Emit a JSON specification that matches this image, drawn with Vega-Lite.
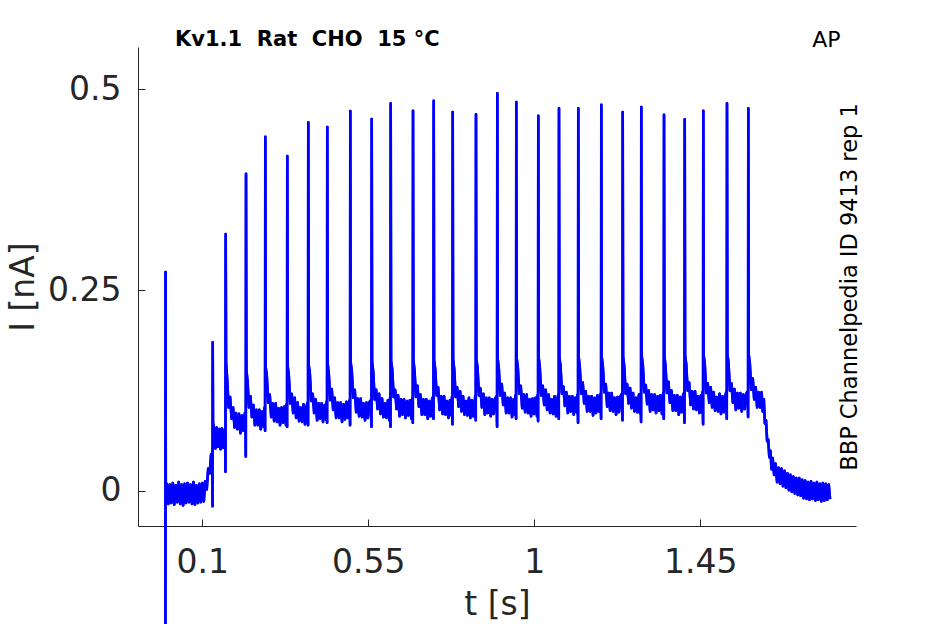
{
"$schema": "https://vega.github.io/schema/vega-lite/v6.json",
"width": 718, "height": 479,
"autosize": {"type": "none"},
"padding": {"left": 138, "top": 47, "right": 89, "bottom": 98},
"background": "white",
"config": {"view": {"stroke": null}, "font": "DejaVu Sans"},
"title": {"text": "Kv1.1\u00a0\u00a0Rat\u00a0\u00a0CHO\u00a0\u00a015 °C", "anchor": "start", "frame": "group", "dx": 37, "fontSize": 21, "fontWeight": "bold", "color": "black", "font": "DejaVu Sans", "baseline": "alphabetic", "offset": -39},
"data": {"values": [
{"t":0,"i":-0.25},{"t":0.0004,"i":0.2726},{"t":0.001,"i":0.004},{"t":0.004,"i":0.009},{"t":0.008,"i":-0.016},{"t":0.012,"i":0.008},{"t":0.016,"i":-0.015},{"t":0.02,"i":0.01},{"t":0.024,"i":-0.017},{"t":0.028,"i":0.007},{"t":0.032,"i":-0.014},{"t":0.036,"i":0.011},{"t":0.04,"i":-0.016},{"t":0.044,"i":0.008},{"t":0.048,"i":-0.018},{"t":0.052,"i":0.009},{"t":0.056,"i":-0.015},{"t":0.06,"i":0.01},{"t":0.064,"i":-0.014},{"t":0.068,"i":0.008},{"t":0.072,"i":-0.016},{"t":0.076,"i":0.011},{"t":0.08,"i":-0.017},{"t":0.084,"i":0.007},{"t":0.088,"i":-0.015},{"t":0.092,"i":0.009},{"t":0.096,"i":-0.014},{"t":0.1,"i":0.01},{"t":0.104,"i":-0.013},{"t":0.108,"i":0.012},{"t":0.112,"i":0.002},{"t":0.116,"i":0.028},{"t":0.12,"i":0.022},{"t":0.124,"i":0.046},{"t":0.1272,"i":0.035},{"t":0.1278,"i":-0.019},{"t":0.1282,"i":0.185},
{"t":0.129,"i":0.085},{"t":0.132,"i":0.078},{"t":0.1355,"i":0.053},{"t":0.139,"i":0.079},{"t":0.1425,"i":0.055},{"t":0.146,"i":0.077},{"t":0.1495,"i":0.052},{"t":0.153,"i":0.078},{"t":0.1565,"i":0.054},{"t":0.16,"i":0.076},{"t":0.162,"i":0.062},{"t":0.1628,"i":0.024},{"t":0.1634,"i":0.32},
{"t":0.1644,"i":0.16},{"t":0.1674,"i":0.139},{"t":0.1714,"i":0.104},{"t":0.1754,"i":0.117},{"t":0.1794,"i":0.09},{"t":0.1834,"i":0.104},{"t":0.1874,"i":0.079},{"t":0.1914,"i":0.097},{"t":0.1954,"i":0.077},{"t":0.1994,"i":0.096},{"t":0.2034,"i":0.072},{"t":0.2074,"i":0.094},{"t":0.2114,"i":0.075},{"t":0.2154,"i":0.097},{"t":0.2168,"i":0.093},{"t":0.2179,"i":0.043},{"t":0.2185,"i":0.395},
{"t":0.2195,"i":0.15},{"t":0.2225,"i":0.137},{"t":0.2265,"i":0.104},{"t":0.2305,"i":0.118},{"t":0.2345,"i":0.092},{"t":0.2385,"i":0.107},{"t":0.2425,"i":0.082},{"t":0.2465,"i":0.101},{"t":0.2505,"i":0.082},{"t":0.2545,"i":0.101},{"t":0.2585,"i":0.077},{"t":0.2625,"i":0.099},{"t":0.2665,"i":0.08},{"t":0.2688,"i":0.104},{"t":0.2702,"i":0.075},{"t":0.2708,"i":0.441},
{"t":0.2718,"i":0.154},{"t":0.2748,"i":0.143},{"t":0.2788,"i":0.11},{"t":0.2828,"i":0.12},{"t":0.2868,"i":0.092},{"t":0.2908,"i":0.109},{"t":0.2948,"i":0.087},{"t":0.2988,"i":0.109},{"t":0.3028,"i":0.086},{"t":0.3068,"i":0.103},{"t":0.3108,"i":0.082},{"t":0.3148,"i":0.104},{"t":0.3188,"i":0.085},{"t":0.3228,"i":0.105},{"t":0.3268,"i":0.082},{"t":0.3284,"i":0.108},{"t":0.3298,"i":0.08},{"t":0.3304,"i":0.417},
{"t":0.3314,"i":0.156},{"t":0.3344,"i":0.144},{"t":0.3384,"i":0.109},{"t":0.3424,"i":0.121},{"t":0.3464,"i":0.097},{"t":0.3504,"i":0.116},{"t":0.3544,"i":0.091},{"t":0.3584,"i":0.11},{"t":0.3624,"i":0.087},{"t":0.3664,"i":0.104},{"t":0.3704,"i":0.086},{"t":0.3744,"i":0.108},{"t":0.3784,"i":0.083},{"t":0.3824,"i":0.105},{"t":0.3853,"i":0.11},{"t":0.3867,"i":0.082},{"t":0.3873,"i":0.459},
{"t":0.3883,"i":0.157},{"t":0.3913,"i":0.147},{"t":0.3953,"i":0.112},{"t":0.3993,"i":0.121},{"t":0.4033,"i":0.097},{"t":0.4073,"i":0.114},{"t":0.4113,"i":0.088},{"t":0.4153,"i":0.109},{"t":0.4193,"i":0.09},{"t":0.4233,"i":0.109},{"t":0.4273,"i":0.086},{"t":0.4313,"i":0.107},{"t":0.4353,"i":0.089},{"t":0.4368,"i":0.111},{"t":0.4382,"i":0.085},{"t":0.4388,"i":0.453},
{"t":0.4398,"i":0.159},{"t":0.4428,"i":0.146},{"t":0.4468,"i":0.113},{"t":0.4508,"i":0.127},{"t":0.4548,"i":0.101},{"t":0.4588,"i":0.116},{"t":0.4628,"i":0.091},{"t":0.4668,"i":0.11},{"t":0.4708,"i":0.091},{"t":0.4748,"i":0.11},{"t":0.4788,"i":0.086},{"t":0.4828,"i":0.108},{"t":0.4868,"i":0.089},{"t":0.4908,"i":0.111},{"t":0.4948,"i":0.091},{"t":0.4992,"i":0.113},{"t":0.5006,"i":0.082},{"t":0.5012,"i":0.473},
{"t":0.5022,"i":0.16},{"t":0.5052,"i":0.149},{"t":0.5092,"i":0.116},{"t":0.5132,"i":0.126},{"t":0.5172,"i":0.098},{"t":0.5212,"i":0.115},{"t":0.5252,"i":0.093},{"t":0.5292,"i":0.115},{"t":0.5332,"i":0.092},{"t":0.5372,"i":0.109},{"t":0.5412,"i":0.088},{"t":0.5452,"i":0.11},{"t":0.5492,"i":0.091},{"t":0.5532,"i":0.111},{"t":0.5572,"i":0.113},{"t":0.5586,"i":0.08},{"t":0.5592,"i":0.463},
{"t":0.5602,"i":0.161},{"t":0.5632,"i":0.149},{"t":0.5672,"i":0.114},{"t":0.5712,"i":0.126},{"t":0.5752,"i":0.102},{"t":0.5792,"i":0.121},{"t":0.5832,"i":0.096},{"t":0.5872,"i":0.115},{"t":0.5912,"i":0.092},{"t":0.5952,"i":0.109},{"t":0.5992,"i":0.091},{"t":0.6032,"i":0.113},{"t":0.6072,"i":0.088},{"t":0.6087,"i":0.115},{"t":0.6101,"i":0.08},{"t":0.6107,"i":0.4825},
{"t":0.6117,"i":0.162},{"t":0.6147,"i":0.152},{"t":0.6187,"i":0.117},{"t":0.6227,"i":0.126},{"t":0.6267,"i":0.102},{"t":0.6307,"i":0.119},{"t":0.6347,"i":0.093},{"t":0.6387,"i":0.114},{"t":0.6427,"i":0.095},{"t":0.6467,"i":0.114},{"t":0.6507,"i":0.091},{"t":0.6547,"i":0.112},{"t":0.6587,"i":0.094},{"t":0.6627,"i":0.113},{"t":0.6667,"i":0.09},{"t":0.6692,"i":0.116},{"t":0.6706,"i":0.085},{"t":0.6712,"i":0.4733},
{"t":0.6722,"i":0.163},{"t":0.6752,"i":0.15},{"t":0.6792,"i":0.117},{"t":0.6832,"i":0.131},{"t":0.6872,"i":0.105},{"t":0.6912,"i":0.12},{"t":0.6952,"i":0.095},{"t":0.6992,"i":0.114},{"t":0.7032,"i":0.095},{"t":0.7072,"i":0.114},{"t":0.7112,"i":0.09},{"t":0.7152,"i":0.112},{"t":0.7192,"i":0.093},{"t":0.7232,"i":0.115},{"t":0.7253,"i":0.117},{"t":0.7267,"i":0.09},{"t":0.7273,"i":0.4857},
{"t":0.7283,"i":0.163},{"t":0.7313,"i":0.152},{"t":0.7353,"i":0.119},{"t":0.7393,"i":0.129},{"t":0.7433,"i":0.101},{"t":0.7473,"i":0.118},{"t":0.7513,"i":0.096},{"t":0.7553,"i":0.118},{"t":0.7593,"i":0.095},{"t":0.7633,"i":0.112},{"t":0.7673,"i":0.091},{"t":0.7713,"i":0.113},{"t":0.7753,"i":0.094},{"t":0.7768,"i":0.117},{"t":0.7782,"i":0.083},{"t":0.7788,"i":0.4717},
{"t":0.7798,"i":0.164},{"t":0.7828,"i":0.152},{"t":0.7868,"i":0.117},{"t":0.7908,"i":0.129},{"t":0.7948,"i":0.105},{"t":0.7988,"i":0.124},{"t":0.8028,"i":0.099},{"t":0.8068,"i":0.118},{"t":0.8108,"i":0.095},{"t":0.8148,"i":0.112},{"t":0.8188,"i":0.094},{"t":0.8228,"i":0.116},{"t":0.8268,"i":0.091},{"t":0.8308,"i":0.113},{"t":0.8348,"i":0.093},{"t":0.8399,"i":0.118},{"t":0.8413,"i":0.088},{"t":0.8419,"i":0.4689},
{"t":0.8429,"i":0.164},{"t":0.8459,"i":0.154},{"t":0.8499,"i":0.119},{"t":0.8539,"i":0.128},{"t":0.8579,"i":0.104},{"t":0.8619,"i":0.121},{"t":0.8659,"i":0.095},{"t":0.8699,"i":0.116},{"t":0.8739,"i":0.097},{"t":0.8779,"i":0.116},{"t":0.8819,"i":0.093},{"t":0.8859,"i":0.114},{"t":0.8899,"i":0.096},{"t":0.8939,"i":0.115},{"t":0.8977,"i":0.118},{"t":0.8991,"i":0.08},{"t":0.8997,"i":0.495},
{"t":0.9007,"i":0.165},{"t":0.9037,"i":0.152},{"t":0.9077,"i":0.119},{"t":0.9117,"i":0.133},{"t":0.9157,"i":0.107},{"t":0.9197,"i":0.122},{"t":0.9237,"i":0.097},{"t":0.9277,"i":0.116},{"t":0.9317,"i":0.097},{"t":0.9357,"i":0.116},{"t":0.9397,"i":0.092},{"t":0.9437,"i":0.114},{"t":0.9477,"i":0.095},{"t":0.9492,"i":0.119},{"t":0.9506,"i":0.09},{"t":0.9512,"i":0.4842},
{"t":0.9522,"i":0.165},{"t":0.9552,"i":0.154},{"t":0.9592,"i":0.121},{"t":0.9632,"i":0.131},{"t":0.9672,"i":0.103},{"t":0.9712,"i":0.12},{"t":0.9752,"i":0.098},{"t":0.9792,"i":0.12},{"t":0.9832,"i":0.097},{"t":0.9872,"i":0.114},{"t":0.9912,"i":0.093},{"t":0.9952,"i":0.115},{"t":0.9992,"i":0.096},{"t":1.0032,"i":0.116},{"t":1.0072,"i":0.093},{"t":1.0088,"i":0.119},{"t":1.0102,"i":0.087},{"t":1.0108,"i":0.4672},
{"t":1.0118,"i":0.166},{"t":1.0148,"i":0.154},{"t":1.0188,"i":0.119},{"t":1.0228,"i":0.131},{"t":1.0268,"i":0.107},{"t":1.0308,"i":0.126},{"t":1.0348,"i":0.101},{"t":1.0388,"i":0.12},{"t":1.0428,"i":0.097},{"t":1.0468,"i":0.114},{"t":1.0508,"i":0.096},{"t":1.0548,"i":0.118},{"t":1.0588,"i":0.093},{"t":1.0628,"i":0.115},{"t":1.0649,"i":0.12},{"t":1.0663,"i":0.09},{"t":1.0669,"i":0.4764},
{"t":1.0679,"i":0.166},{"t":1.0709,"i":0.156},{"t":1.0749,"i":0.121},{"t":1.0789,"i":0.13},{"t":1.0829,"i":0.106},{"t":1.0869,"i":0.123},{"t":1.0909,"i":0.097},{"t":1.0949,"i":0.118},{"t":1.0989,"i":0.099},{"t":1.1029,"i":0.118},{"t":1.1069,"i":0.095},{"t":1.1109,"i":0.116},{"t":1.1149,"i":0.098},{"t":1.1172,"i":0.12},{"t":1.1186,"i":0.085},{"t":1.1192,"i":0.4764},
{"t":1.1202,"i":0.167},{"t":1.1232,"i":0.154},{"t":1.1272,"i":0.121},{"t":1.1312,"i":0.135},{"t":1.1352,"i":0.109},{"t":1.1392,"i":0.124},{"t":1.1432,"i":0.099},{"t":1.1472,"i":0.118},{"t":1.1512,"i":0.099},{"t":1.1552,"i":0.118},{"t":1.1592,"i":0.094},{"t":1.1632,"i":0.116},{"t":1.1672,"i":0.097},{"t":1.1712,"i":0.119},{"t":1.1752,"i":0.099},{"t":1.1796,"i":0.121},{"t":1.181,"i":0.09},{"t":1.1816,"i":0.4808},
{"t":1.1826,"i":0.167},{"t":1.1856,"i":0.156},{"t":1.1896,"i":0.123},{"t":1.1936,"i":0.133},{"t":1.1976,"i":0.105},{"t":1.2016,"i":0.122},{"t":1.2056,"i":0.1},{"t":1.2096,"i":0.122},{"t":1.2136,"i":0.099},{"t":1.2176,"i":0.116},{"t":1.2216,"i":0.095},{"t":1.2256,"i":0.117},{"t":1.2296,"i":0.098},{"t":1.2336,"i":0.118},{"t":1.2376,"i":0.121},{"t":1.239,"i":0.088},{"t":1.2396,"i":0.4717},
{"t":1.2406,"i":0.168},{"t":1.2436,"i":0.156},{"t":1.2476,"i":0.121},{"t":1.2516,"i":0.133},{"t":1.2556,"i":0.109},{"t":1.2596,"i":0.128},{"t":1.2636,"i":0.103},{"t":1.2676,"i":0.122},{"t":1.2716,"i":0.099},{"t":1.2756,"i":0.116},{"t":1.2796,"i":0.098},{"t":1.2836,"i":0.12},{"t":1.2866,"i":0.097},{"t":1.288,"i":0.121},{"t":1.2894,"i":0.086},{"t":1.29,"i":0.478},
{"t":1.291,"i":0.168},{"t":1.294,"i":0.158},{"t":1.298,"i":0.123},{"t":1.302,"i":0.132},{"t":1.306,"i":0.108},{"t":1.31,"i":0.125},{"t":1.314,"i":0.099},{"t":1.318,"i":0.12},{"t":1.322,"i":0.101},{"t":1.326,"i":0.12},{"t":1.33,"i":0.097},{"t":1.334,"i":0.118},{"t":1.338,"i":0.1},{"t":1.342,"i":0.119},{"t":1.346,"i":0.096},{"t":1.3496,"i":0.122},{"t":1.351,"i":0.09},{"t":1.3516,"i":0.4684},
{"t":1.3526,"i":0.168},{"t":1.3556,"i":0.155},{"t":1.3596,"i":0.122},{"t":1.3636,"i":0.136},{"t":1.3676,"i":0.11},{"t":1.3716,"i":0.125},{"t":1.3756,"i":0.1},{"t":1.3796,"i":0.119},{"t":1.3836,"i":0.1},{"t":1.3876,"i":0.119},{"t":1.3916,"i":0.095},{"t":1.3956,"i":0.117},{"t":1.3996,"i":0.098},{"t":1.4036,"i":0.12},{"t":1.4057,"i":0.122},{"t":1.4071,"i":0.085},{"t":1.4077,"i":0.4626},
{"t":1.4087,"i":0.169},{"t":1.4117,"i":0.158},{"t":1.4157,"i":0.125},{"t":1.4197,"i":0.135},{"t":1.4237,"i":0.107},{"t":1.4277,"i":0.124},{"t":1.4317,"i":0.102},{"t":1.4357,"i":0.124},{"t":1.4397,"i":0.101},{"t":1.4437,"i":0.118},{"t":1.4477,"i":0.097},{"t":1.4517,"i":0.119},{"t":1.4545,"i":0.098},{"t":1.4561,"i":0.123},{"t":1.4575,"i":0.083},{"t":1.4581,"i":0.4733},
{"t":1.4591,"i":0.169},{"t":1.4621,"i":0.157},{"t":1.4661,"i":0.122},{"t":1.4701,"i":0.134},{"t":1.4741,"i":0.11},{"t":1.4781,"i":0.129},{"t":1.4821,"i":0.104},{"t":1.4861,"i":0.123},{"t":1.4901,"i":0.1},{"t":1.4941,"i":0.117},{"t":1.4981,"i":0.099},{"t":1.5021,"i":0.121},{"t":1.5061,"i":0.096},{"t":1.5101,"i":0.118},{"t":1.5141,"i":0.098},{"t":1.5181,"i":0.119},{"t":1.5203,"i":0.123},{"t":1.5217,"i":0.09},{"t":1.5223,"i":0.4825},
{"t":1.5233,"i":0.17},{"t":1.5263,"i":0.16},{"t":1.5303,"i":0.125},{"t":1.5343,"i":0.134},{"t":1.5383,"i":0.11},{"t":1.5423,"i":0.127},{"t":1.5463,"i":0.101},{"t":1.5503,"i":0.122},{"t":1.5543,"i":0.103},{"t":1.5583,"i":0.122},{"t":1.5623,"i":0.099},{"t":1.5663,"i":0.12},{"t":1.5703,"i":0.102},{"t":1.5743,"i":0.121},{"t":1.5781,"i":0.124},{"t":1.5795,"i":0.092},{"t":1.5801,"i":0.4764},
{"t":1.5811,"i":0.17},{"t":1.5841,"i":0.159},{"t":1.5881,"i":0.126},{"t":1.5921,"i":0.14},{"t":1.5961,"i":0.114},{"t":1.6001,"i":0.129},{"t":1.6041,"i":0.104},{"t":1.6081,"i":0.123},{"t":1.6121,"i":0.104},{"t":1.6161,"i":0.123},{"t":1.6191,"i":0.099},{"t":1.6221,"i":0.114},{"t":1.6251,"i":0.084},{"t":1.6281,"i":0.088},{"t":1.6311,"i":0.062},{"t":1.6341,"i":0.064},{"t":1.6371,"i":0.042},{"t":1.6401,"i":0.05},{"t":1.6431,"i":0.027},{"t":1.6461,"i":0.041},{"t":1.6501,"i":0.02},{"t":1.6541,"i":0.034},{"t":1.6581,"i":0.011},{"t":1.6621,"i":0.029},{"t":1.6661,"i":0.009},{"t":1.6701,"i":0.028},{"t":1.6741,"i":0.006},{"t":1.6781,"i":0.025},{"t":1.6821,"i":0.004},{"t":1.6861,"i":0.022},{"t":1.6901,"i":0.001},{"t":1.6941,"i":0.02},{"t":1.6981,"i":-0.001},{"t":1.7021,"i":0.018},{"t":1.7061,"i":-0.003},{"t":1.7101,"i":0.016},{"t":1.7141,"i":-0.005},{"t":1.7181,"i":0.016},{"t":1.7221,"i":-0.006},{"t":1.7261,"i":0.014},{"t":1.7301,"i":-0.009},{"t":1.7341,"i":0.013},{"t":1.7381,"i":-0.01},{"t":1.7421,"i":0.011},{"t":1.7461,"i":-0.011},{"t":1.7501,"i":0.012},{"t":1.7541,"i":-0.01},{"t":1.7581,"i":0.01},{"t":1.7621,"i":-0.012},{"t":1.7661,"i":0.011},{"t":1.7701,"i":-0.011},{"t":1.7741,"i":0.009},{"t":1.7781,"i":-0.013},{"t":1.7821,"i":0.01},{"t":1.7861,"i":-0.012},{"t":1.7901,"i":0.009},{"t":1.7941,"i":-0.011},{"t":1.7981,"i":0.008},{"t":1.8016,"i":-0.01}
]},
"layer": [
{
"mark": {"type": "line", "color": "#0000ff", "strokeWidth": 2.6, "strokeJoin": "round"},
"encoding": {
"x": {"field": "t", "type": "quantitative", "scale": {"domain": [-0.0743, 1.872], "nice": false, "zero": false},
"axis": {"orient": "bottom", "values": [0.1, 0.55, 1, 1.45], "labelExpr": "datum.value + ''", "title": "t [s]", "grid": false, "domainColor": "#262626", "tickColor": "#262626", "tickSize": -7, "labelFontSize": 33, "labelColor": "#262626", "labelPadding": 27, "labelFont": "DejaVu Sans", "labelFlush": false, "labelOverlap": false, "titleFont": "DejaVu Sans", "titleFontSize": 33, "titleFontWeight": "normal", "titleColor": "#262626", "titlePadding": 9}},
"y": {"field": "i", "type": "quantitative", "scale": {"domain": [-0.0436, 0.5527], "nice": false, "zero": false},
"axis": {"orient": "left", "values": [0, 0.25, 0.5], "labelExpr": "datum.value + ''", "title": "I [nA]", "grid": false, "domainColor": "#262626", "tickColor": "#262626", "tickSize": -7, "labelFontSize": 33, "labelColor": "#262626", "labelPadding": 24, "labelFont": "DejaVu Sans", "labelFlush": false, "labelOverlap": false, "titleFont": "DejaVu Sans", "titleFontSize": 33, "titleFontWeight": "normal", "titleColor": "#262626", "titlePadding": 7}}
}
},
{
"mark": {"type": "line", "color": "#0000ff", "strokeWidth": 2.6, "strokeJoin": "round"},
"encoding": {
"x": {"field": "t", "type": "quantitative",
"axis": {"orient": "top", "title": "AP", "domain": false, "ticks": false, "labels": false, "grid": false, "titleFont": "DejaVu Sans", "titleFontSize": 22, "titleFontWeight": "normal", "titleColor": "black", "titleX": 702, "titleY": -1, "titleAlign": "right", "titleBaseline": "alphabetic", "titleAngle": 0}},
"y": {"field": "i", "type": "quantitative",
"axis": {"orient": "right", "title": "BBP Channelpedia ID 9413 rep 1", "domain": false, "ticks": false, "labels": false, "grid": false, "titleFont": "DejaVu Sans", "titleFontSize": 22.5, "titleFontWeight": "normal", "titleColor": "black", "titleAngle": 270, "titleX": 0, "titleY": 239.5, "titleAlign": "center", "titleBaseline": "alphabetic"}}
}
}
],
"resolve": {"axis": {"x": "independent", "y": "independent"}}
}
